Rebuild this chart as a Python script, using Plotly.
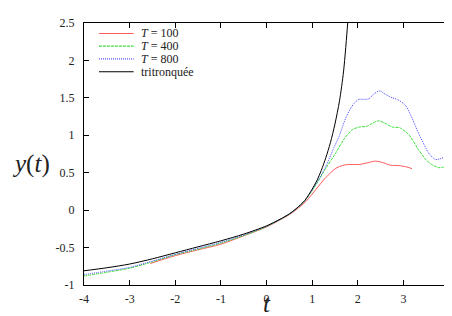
import plotly.graph_objects as go

# ---- data ----
t_tri = [-4, -3.5, -3, -2.5, -2, -1.5, -1, -0.5, 0, 0.3, 0.5, 0.65, 0.84, 1.0, 1.1, 1.2, 1.3, 1.4, 1.5, 1.6, 1.69, 1.78, 1.85]
y_tri = [-0.81, -0.77, -0.72, -0.65, -0.57, -0.49, -0.41, -0.32, -0.21, -0.12, -0.05, 0.02, 0.13, 0.28, 0.39, 0.53, 0.70, 0.90, 1.15, 1.46, 1.86, 2.5, 3.1]

t_400 = [-4, -3.5, -3, -2.5, -2, -1.5, -1, -0.5, 0, 0.3, 0.5, 0.65, 0.84, 1.087, 1.30, 1.52, 1.70, 1.88, 2.03, 2.2, 2.32,
         2.46, 2.6, 2.76, 2.92, 3.12, 3.33, 3.5, 3.62, 3.77, 3.88, 4.0]
y_400 = [-0.88, -0.83, -0.775, -0.69, -0.595, -0.52, -0.44, -0.34, -0.22, -0.125, -0.055, 0.015, 0.125, 0.34, 0.56, 0.766, 0.95, 1.074, 1.11, 1.12, 1.16,
         1.193, 1.16, 1.11, 1.10, 1.008, 0.81, 0.67, 0.61, 0.568, 0.575, 0.61]

t_800 = [-4, -3.5, -3, -2.5, -2, -1.5, -1, -0.5, 0, 0.3, 0.5, 0.65, 0.84, 1.087, 1.27, 1.46, 1.59, 1.75, 1.92, 2.03, 2.15, 2.25,
         2.35, 2.48, 2.6, 2.72, 2.86, 3.04, 3.19, 3.33, 3.45, 3.55, 3.7, 3.8, 3.91, 4.0]
y_800 = [-0.86, -0.815, -0.765, -0.68, -0.59, -0.51, -0.43, -0.33, -0.215, -0.123, -0.053, 0.017, 0.128, 0.355, 0.546, 0.81, 0.985, 1.25, 1.427, 1.48, 1.48, 1.49,
         1.55, 1.593, 1.55, 1.51, 1.48, 1.404, 1.228, 1.03, 0.88, 0.766, 0.678, 0.685, 0.713, 0.77]

t_100 = [-2.55, -2, -1.5, -1, -0.5, 0, 0.3, 0.5, 0.65, 0.87, 1.087, 1.30, 1.52, 1.67, 1.8, 2.03, 2.2, 2.39, 2.55, 2.72, 2.9, 3.05, 3.19]
y_100 = [-0.713, -0.608, -0.53, -0.455, -0.343, -0.225, -0.13, -0.06, 0.005, 0.12, 0.28, 0.436, 0.559, 0.598, 0.61, 0.61, 0.63, 0.655, 0.635, 0.60, 0.595, 0.58, 0.555]

x_ticks = [-4, -3, -2, -1, 0, 1, 2, 3, 4]
x_ticktext = ["-4", "-3", "-2", "-1", "0", "1", "2", "3", "4"]
y_ticks = [-1, -0.5, 0, 0.5, 1, 1.5, 2, 2.5]
y_ticktext = ["-1", "-0.5", "0", "0.5", "1", "1.5", "2", "2.5"]

legend_labels = ["<i>T</i> = 100", "<i>T</i> = 400", "<i>T</i> = 800", "tritronquée"]
colors = ["#ff5a5a", "#3ee03e", "#4d4dff", "#000000"]
dashes = ["solid", "3px,1px", "1px,1px", "solid"]

SERIF = "Liberation Serif"

fig = go.Figure()
series = [(t_100, y_100), (t_400, y_400), (t_800, y_800), (t_tri, y_tri)]
for (tx, ty), lab, c, d in zip(series, legend_labels, colors, dashes):
    fig.add_trace(go.Scatter(x=tx, y=ty, mode="lines", name=lab, showlegend=False,
                             line=dict(color=c, width=1, dash=d, shape="spline", smoothing=0.8)))

# manual legend (top-left inside the axes)
row_y = [0.960, 0.912, 0.863, 0.814]
for lab, c, d, yy in zip(legend_labels, colors, dashes, row_y):
    fig.add_shape(type="line", xref="paper", yref="paper", x0=0.041, x1=0.136, y0=yy, y1=yy,
                  line=dict(color=c, width=1.2, dash=d))
    fig.add_annotation(xref="paper", yref="paper", x=0.153, y=yy, text=lab, showarrow=False,
                       xanchor="left", yanchor="middle", borderpad=0,
                       font=dict(family=SERIF, size=12, color="#222"))

# axis titles
fig.add_annotation(xref="paper", yref="paper", x=0.5, y=-0.1245, text="<i>t</i>", showarrow=False,
                   xanchor="center", yanchor="bottom", borderpad=0,
                   font=dict(family=SERIF, size=25, color="#222"))
fig.add_annotation(xref="paper", yref="paper", x=-0.144, y=0.46, text="<i>y</i>(<i>t</i>)", showarrow=False,
                   xanchor="center", yanchor="middle", borderpad=0,
                   font=dict(family=SERIF, size=25, color="#222"))

axis_common = dict(showgrid=False, zeroline=False, showline=True, linecolor="black", linewidth=1.2,
                   mirror="ticks", ticks="inside", ticklen=5, tickcolor="black", tickwidth=1,
                   tickfont=dict(family=SERIF, size=12, color="#222"))
fig.update_xaxes(range=[-4, 4], tickvals=x_ticks, ticktext=x_ticktext, ticklabelstandoff=2, **axis_common)
fig.update_yaxes(range=[-1, 2.5], tickvals=y_ticks, ticktext=y_ticktext, ticklabelstandoff=6, **axis_common)

fig.update_layout(width=452, height=316, margin=dict(l=76, r=8, t=12, b=39),
                  paper_bgcolor="white", plot_bgcolor="white", font=dict(family=SERIF))

fig.write_html("out.html")
